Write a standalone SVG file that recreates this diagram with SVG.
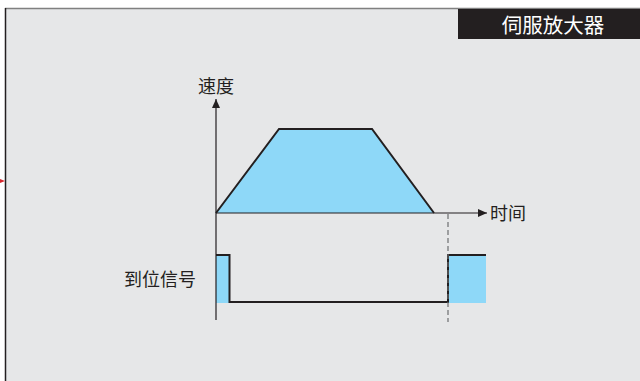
<svg xmlns="http://www.w3.org/2000/svg" width="640" height="381" viewBox="0 0 640 381">
<defs>
<style>
.lbl{font-family:"Noto Sans CJK SC","Noto Sans",sans-serif;font-size:18px;fill:#231f20}
.ln{stroke:#231f20;stroke-width:2;fill:none}
.ax{stroke:#231f20;stroke-width:1.2;fill:none}
.fill{fill:#8ed8f8}
</style>
<marker id="arr" markerWidth="10" markerHeight="10" refX="9" refY="5" orient="auto" markerUnits="userSpaceOnUse">
<path d="M0,1 L9,5 L0,9 Z" fill="#231f20"/>
</marker>
</defs>
<rect x="0" y="0" width="640" height="381" fill="#ffffff"/>
<g id="panel">
<rect x="5" y="8" width="635" height="373" fill="#e6e7e8"/>
<line x1="5" y1="8.5" x2="640" y2="8.5" stroke="#808080" stroke-width="1.5"/>
<line x1="5.5" y1="8" x2="5.5" y2="381" stroke="#231f20" stroke-width="1.5"/>
<path d="M0,179 L5,181 L0,183 Z" fill="#d7262c"/>
</g>
<g id="header">
<rect x="458" y="9" width="182" height="30" fill="#231f20"/>
<text x="553" y="32.5" text-anchor="middle" font-family="Noto Sans CJK SC,Noto Sans,sans-serif" font-size="20.5" fill="#ffffff">伺服放大器</text>
</g>
<g id="speed-curve">
<path class="fill" d="M216,213 L279,129 L372,129 L434,213 Z"/>
<path class="ln" d="M216,213 L279,129 L372,129 L434,213"/>
</g>
<g id="signal">
<rect class="fill" x="216" y="255" width="13.5" height="48"/>
<rect class="fill" x="448" y="255" width="38" height="48"/>
<path class="ln" d="M216,255 L229.5,255 L229.5,302 L448,302 L448,255 L486,255"/>
</g>
<g id="connectors">
<line class="ax" x1="216" y1="320" x2="216" y2="99" marker-end="url(#arr)"/>
<line class="ax" x1="216" y1="213" x2="487" y2="213" marker-end="url(#arr)"/>
<line x1="448" y1="214" x2="448" y2="322" stroke="#6d6e70" stroke-width="1.2" stroke-dasharray="5,3"/>
</g>
<g id="labels">
<text class="lbl" x="216" y="93" text-anchor="middle">速度</text>
<text class="lbl" x="490" y="220">时间</text>
<text class="lbl" x="196" y="286" text-anchor="end">到位信号</text>
</g>
</svg>
